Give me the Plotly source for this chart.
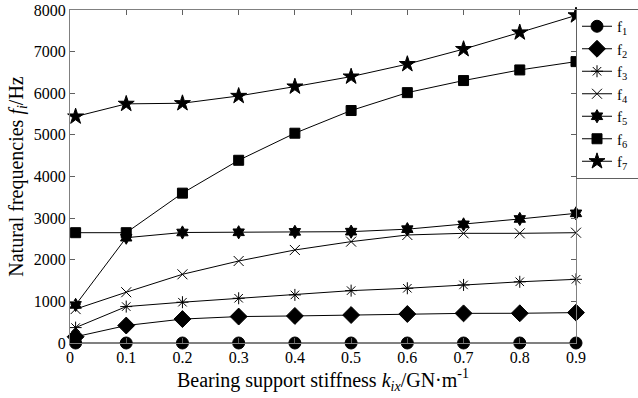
import plotly.graph_objects as go

stiffness = [0.01, 0.1, 0.2, 0.3, 0.4, 0.5, 0.6, 0.7, 0.8, 0.9]
f1 = [0, 0, 0, 0, 0, 0, 0, 0, 0, 0]
f2 = [150, 420, 575, 635, 650, 672, 697, 712, 714, 730]
f3 = [370, 875, 980, 1075, 1155, 1258, 1315, 1395, 1470, 1530]
f4 = [815, 1220, 1650, 1970, 2235, 2435, 2595, 2635, 2635, 2650]
f5 = [915, 2530, 2655, 2660, 2670, 2675, 2735, 2850, 2980, 3115]
f6 = [2650, 2650, 3600, 4390, 5040, 5585, 6015, 6305, 6560, 6760]
f7 = [5440, 5745, 5760, 5935, 6160, 6400, 6700, 7060, 7460, 7870]

series = [
    ("f<sub>1</sub>\u00a0\u00a0", f1, "circle", 12),
    ("f<sub>2</sub>\u00a0\u00a0", f2, "diamond", 13),
    ("f<sub>3</sub>\u00a0\u00a0", f3, "asterisk-open", 10),
    ("f<sub>4</sub>\u00a0\u00a0", f4, "x-thin-open", 10),
    ("f<sub>5</sub>\u00a0\u00a0", f5, "hexagram", 10),
    ("f<sub>6</sub>\u00a0\u00a0", f6, "square", 10),
    ("f<sub>7</sub>\u00a0\u00a0", f7, "star", 12),
]

fig = go.Figure()
for name, ys, sym, sz in series:
    fig.add_trace(go.Scatter(
        x=stiffness, y=ys, name=name, mode="lines+markers",
        line=dict(color="black", width=1),
        marker=dict(symbol=sym, size=sz, color="black",
                    line=dict(color="black", width=1)),
        cliponaxis=False,
    ))

font = "Liberation Serif, Times New Roman, serif"
fig.update_layout(
    width=638, height=398,
    margin=dict(l=70, r=62, t=10, b=55, autoexpand=False),
    paper_bgcolor="white", plot_bgcolor="white",
    font=dict(family=font, size=16, color="black"),
    legend=dict(x=1.0, xanchor="left", y=1.003, yanchor="top",
                bordercolor="#606060", borderwidth=1, bgcolor="white",
                font=dict(family=font, size=15), tracegroupgap=0),
    xaxis=dict(range=[0, 0.9], dtick=0.1, tick0=0, showgrid=False, zeroline=False,
               showline=True, linecolor="#808080", linewidth=1, mirror="ticks",
               ticks="inside", ticklen=5, tickcolor="#606060",
               tickfont=dict(size=16), automargin=False,
               title=dict(text="Bearing support stiffness <i>k</i><sub><i>ix</i></sub>/GN·m<sup>-1</sup>",
                          font=dict(size=20), standoff=2)),
    yaxis=dict(range=[0, 8000], dtick=1000, tick0=0, showgrid=False, zeroline=False,
               showline=True, linecolor="#808080", linewidth=1, mirror="ticks",
               ticks="inside", ticklen=5, tickcolor="#606060",
               tickfont=dict(size=16), automargin=False,
               title=dict(text="Natural frequencies <i>f</i><sub><i>i</i></sub>/Hz",
                          font=dict(size=20), standoff=4)),
)

fig.write_html("out.html", config={"displayModeBar": False},
               post_script="document.body.style.margin='0';")
